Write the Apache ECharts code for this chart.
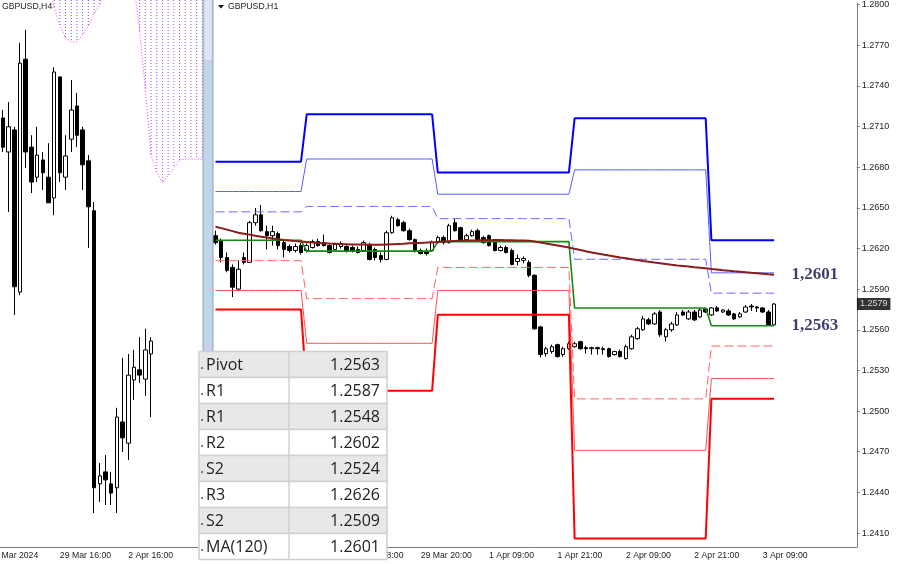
<!DOCTYPE html>
<html>
<head>
<meta charset="utf-8">
<script src="https://cdn.jsdelivr.net/npm/echarts@6/dist/echarts.min.js"></script>
<style>
html,body{margin:0;padding:0;background:#fff;}
#main{width:900px;height:564px;}
</style>
</head>
<body>
<div id="main"></div>
<script>
// ---- H4 panel (left) ----  [open, close, low, high]
var h4Candles = [
[1.26303,1.26237,1.26226,1.26321],
[1.26226,1.26283,1.26090,1.26339],
[1.26276,1.25921,1.25857,1.26283],
[1.25909,1.26427,1.25902,1.26473],
[1.26436,1.26226,1.26190,1.26502],
[1.26237,1.26158,1.26133,1.26264],
[1.26169,1.26219,1.26158,1.26283],
[1.26208,1.26179,1.26140,1.26226],
[1.26169,1.26111,1.26111,1.26246],
[1.26122,1.26407,1.26083,1.26418],
[1.26396,1.26179,1.26158,1.26396],
[1.26169,1.26217,1.26140,1.26264],
[1.26255,1.26321,1.26226,1.26389],
[1.26330,1.26264,1.26237,1.26360],
[1.26276,1.26197,1.26140,1.26283],
[1.26206,1.26102,1.26009,1.26219],
[1.26093,1.25466,1.25409,1.26113],
[1.25475,1.25493,1.25434,1.25522],
[1.25502,1.25484,1.25427,1.25540],
[1.25475,1.25454,1.25427,1.25502],
[1.25466,1.25626,1.25409,1.25647],
[1.25615,1.25579,1.25547,1.25760],
[1.25567,1.25721,1.25529,1.25769],
[1.25710,1.25739,1.25665,1.25778],
[1.25733,1.25721,1.25703,1.25807],
[1.25712,1.25778,1.25674,1.25826],
[1.25769,1.25798,1.25626,1.25807]
];
// Ichimoku cloud lower edge per H4 bar (upper edge is above the visible range)
var h4CloudBottom = [null,null,null,null,null,null,null,null,1.26600,1.26552,1.26513,1.26484,1.26475,1.26475,1.26491,1.26511,1.26538,1.26559,1.26600,null,null,null,null,1.26600,1.26500,1.26366,1.26219,1.26181,1.26156,1.26172,1.26190,1.26208,1.26210,1.26210,1.26210,1.26210];
var h4CloudTop = 1.2680;
var h4TickLabels = {'10':'29 Mar 16:00', '22':'2 Apr 16:00'};
var h4FirstLabel = '27 Mar 2024';   // belongs to bar -2, mostly off the left edge

// ---- H1 panel (right) ----  [open, close, low, high]
var h1Candles = [
[1.26294,1.26243,1.26229,1.26331],[1.26258,1.26133,1.26097,1.26273],[1.26133,1.26038,1.26024,1.26170],
[1.26060,1.25914,1.25841,1.26082],[1.25900,1.26046,1.25885,1.26112],[1.26133,1.26097,1.26082,1.26170],
[1.26097,1.26390,1.26097,1.26404],[1.26390,1.26448,1.26368,1.26499],[1.26448,1.26331,1.26324,1.26521],
[1.26324,1.26294,1.26192,1.26368],[1.26294,1.26324,1.26221,1.26368],[1.26309,1.26221,1.26192,1.26324],
[1.26243,1.26192,1.26133,1.26258],[1.26214,1.26185,1.26170,1.26229],[1.26185,1.26214,1.26170,1.26236],
[1.26221,1.26170,1.26155,1.26243],[1.26185,1.26221,1.26170,1.26236],[1.26207,1.26251,1.26199,1.26265],
[1.26251,1.26221,1.26214,1.26273],[1.26243,1.26221,1.26214,1.26302],[1.26221,1.26170,1.26163,1.26229],
[1.26192,1.26229,1.26185,1.26243],[1.26214,1.26236,1.26199,1.26251],[1.26214,1.26177,1.26170,1.26229],
[1.26207,1.26185,1.26170,1.26221],[1.26192,1.26170,1.26163,1.26214],[1.26185,1.26243,1.26177,1.26258],
[1.26229,1.26119,1.26112,1.26243],[1.26192,1.26133,1.26112,1.26207],[1.26148,1.26119,1.26097,1.26170],
[1.26119,1.26316,1.26112,1.26331],[1.26316,1.26426,1.26309,1.26441],[1.26412,1.26368,1.26360,1.26426],
[1.26390,1.26331,1.26324,1.26404],[1.26331,1.26265,1.26258,1.26346],[1.26265,1.26185,1.26170,1.26273],
[1.26185,1.26163,1.26155,1.26199],[1.26177,1.26163,1.26148,1.26199],[1.26185,1.26243,1.26177,1.26258],
[1.26243,1.26280,1.26236,1.26294],[1.26280,1.26243,1.26229,1.26294],[1.26243,1.26368,1.26236,1.26382],
[1.26390,1.26331,1.26324,1.26419],[1.26353,1.26265,1.26258,1.26360],[1.26265,1.26294,1.26251,1.26309],
[1.26294,1.26324,1.26287,1.26338],[1.26331,1.26265,1.26258,1.26346],[1.26280,1.26243,1.26236,1.26294],
[1.26294,1.26221,1.26214,1.26302],[1.26258,1.26185,1.26177,1.26265],[1.26185,1.26207,1.26177,1.26221],
[1.26207,1.26170,1.26163,1.26221],[1.26185,1.26082,1.26075,1.26199],[1.26104,1.26126,1.26075,1.26155],
[1.26112,1.26126,1.26090,1.26141],[1.26097,1.26002,1.25987,1.26112],[1.26002,1.25607,1.25600,1.26009],
[1.25621,1.25417,1.25395,1.25629],[1.25424,1.25460,1.25402,1.25475],[1.25439,1.25475,1.25424,1.25490],
[1.25490,1.25402,1.25395,1.25497],[1.25417,1.25460,1.25402,1.25475],[1.25460,1.25497,1.25453,1.25512],
[1.25475,1.25497,1.25468,1.25512],[1.25512,1.25460,1.25453,1.25519],[1.25468,1.25460,1.25424,1.25482],
[1.25460,1.25468,1.25417,1.25475],[1.25468,1.25460,1.25417,1.25475],[1.25460,1.25453,1.25417,1.25475],
[1.25460,1.25402,1.25395,1.25468],[1.25417,1.25439,1.25409,1.25446],[1.25439,1.25402,1.25395,1.25453],
[1.25387,1.25475,1.25380,1.25490],[1.25460,1.25548,1.25453,1.25563],[1.25534,1.25607,1.25526,1.25621],
[1.25600,1.25680,1.25592,1.25702],[1.25673,1.25643,1.25636,1.25687],[1.25643,1.25717,1.25636,1.25731],
[1.25731,1.25563,1.25548,1.25746],[1.25548,1.25600,1.25512,1.25614],[1.25600,1.25643,1.25585,1.25658],
[1.25636,1.25709,1.25629,1.25731],[1.25731,1.25709,1.25702,1.25746],[1.25680,1.25731,1.25673,1.25746],
[1.25731,1.25673,1.25665,1.25746],[1.25695,1.25746,1.25687,1.25761],[1.25753,1.25731,1.25724,1.25761],
[1.25709,1.25761,1.25702,1.25768],[1.25761,1.25739,1.25731,1.25775],[1.25731,1.25746,1.25724,1.25753],
[1.25739,1.25709,1.25702,1.25753],[1.25717,1.25680,1.25673,1.25724],[1.25695,1.25717,1.25687,1.25731],
[1.25731,1.25768,1.25724,1.25782],[1.25775,1.25768,1.25739,1.25790],[1.25768,1.25761,1.25731,1.25775],
[1.25761,1.25731,1.25724,1.25768],[1.25731,1.25636,1.25629,1.25746],[1.25636,1.25790,1.25629,1.25797]
];
var ma120 = [
1.26360,1.26350,1.26339,1.26328,1.26316,1.26309,1.26302,1.26294,1.26287,1.26280,
1.26273,1.26267,1.26262,1.26258,1.26254,1.26251,1.26247,1.26243,1.26241,1.26239,
1.26236,1.26235,1.26232,1.26231,1.26230,1.26229,1.26229,1.26227,1.26227,1.26227,
1.26229,1.26231,1.26233,1.26235,1.26238,1.26240,1.26241,1.26243,1.26246,1.26248,
1.26251,1.26253,1.26255,1.26257,1.26258,1.26258,1.26259,1.26260,1.26261,1.26262,
1.26262,1.26261,1.26260,1.26259,1.26258,1.26256,1.26251,1.26243,1.26236,1.26229,
1.26221,1.26214,1.26207,1.26197,1.26189,1.26179,1.26170,1.26163,1.26155,1.26148,
1.26141,1.26133,1.26128,1.26121,1.26115,1.26108,1.26102,1.26096,1.26091,1.26085,
1.26079,1.26074,1.26070,1.26066,1.26061,1.26057,1.26053,1.26048,1.26044,1.26039,
1.26035,1.26031,1.26028,1.26024,1.26020,1.26017,1.26013,1.26009,1.26006
];
// daily pivot levels, one value per day; dayStarts = first H1 bar of each day
var dayStarts = [0, 16, 39, 63, 87];
var levelR3 = [1.2684, 1.2719, 1.2676, 1.2716, 1.2626];
var levelR2 = [1.2662, 1.2686, 1.2660, 1.2678, 1.2602];
var levelR1 = [1.2647, 1.2651, 1.2642, 1.2612, 1.2587];
var levelP  = [1.2626, 1.2618, 1.2625, 1.2576, 1.2563];
var levelS1 = [1.2611, 1.2583, 1.2606, 1.2509, 1.2548];
var levelS2 = [1.2589, 1.2550, 1.2589, 1.2471, 1.2524];
var levelS3 = [1.2575, 1.2515, 1.2571, 1.2406, 1.2509];
var h1TickLabels = ['28 Mar 08:00','28 Mar 20:00','29 Mar 08:00','29 Mar 20:00','1 Apr 09:00','1 Apr 21:00','2 Apr 09:00','2 Apr 21:00','3 Apr 09:00'];
var priceTicks = [1.2410,1.2440,1.2470,1.2500,1.2530,1.2560,1.2590,1.2620,1.2650,1.2680,1.2710,1.2740,1.2770,1.2800];
var lastPrice = 1.2579;
var tagLabels = [['1,2601', 1.2601], ['1,2563', 1.2563]];

var tableNames = ['Pivot','R1','R1','R2','S2','R3','S2','MA(120)'];
var tableValues = ['1.2563','1.2587','1.2548','1.2602','1.2524','1.2626','1.2509','1.2601'];

var BAR = 5.7;
var AXFONT = 'Liberation Sans';

var h4Cats = [];
for (var k = 0; k <= 35; k++) h4Cats.push(k);
var h4Data = h4Cats.map(function (k) { return k < h4Candles.length ? h4Candles[k] : '-'; });
var h4Bottom = h4Cats.map(function (k) { return h4CloudBottom[k] != null ? h4CloudBottom[k] : '-'; });
var h4Cloud = [];
h4Cats.forEach(function (k) {
  if (h4CloudBottom[k] != null) h4Cloud.push([k, h4CloudTop, h4CloudBottom[k], k < 20 ? 0 : 1]);
});

var h1Cats = [];
for (var i = 0; i < 113; i++) h1Cats.push(i);

function levelSeries(levels) {
  var out = [];
  for (var i = 0; i < h1Candles.length; i++) {
    var d = 0;
    while (d + 1 < dayStarts.length && i >= dayStarts[d + 1]) d++;
    out.push(levels[d]);
  }
  return out;
}

function pivotLine(name, levels, color, width, dashed) {
  return {
    name: name, type: 'line', xAxisIndex: 1, yAxisIndex: 1,
    data: levelSeries(levels), symbol: 'none', silent: true, z: 4,
    lineStyle: { color: color, width: width, type: dashed ? [9, 4] : 'solid' }
  };
}

var candleStyle = { color: '#ffffff', color0: '#000000', borderColor: '#000000', borderColor0: '#000000', borderWidth: 1 };
var TFONT = '16px "Open Sans"';

var graphics = [
  { type: 'rect', z: 50, shape: { x: 203, y: 0, width: 10, height: 547 }, style: { fill: '#c3d3e8', stroke: '#8e9fb5', lineWidth: 1 } },
  { type: 'rect', z: 51, shape: { x: 204.5, y: 0, width: 7, height: 60 }, style: { fill: '#dde7f4' } },
  { type: 'text', z: 52, x: 2, y: 7, style: { text: 'GBPUSD,H4', fill: '#222', font: '8.7px "Liberation Sans"', verticalAlign: 'middle' } },
  { type: 'polygon', z: 52, shape: { points: [[218, 5], [224, 5], [221, 8.5]] }, style: { fill: '#111' } },
  { type: 'text', z: 52, x: 228, y: 7, style: { text: 'GBPUSD,H1', fill: '#222', font: '8.7px "Liberation Sans"', verticalAlign: 'middle' } },
  { type: 'text', z: 52, x: -10.5, y: 551, style: { text: h4FirstLabel, fill: '#222', font: '8.7px "Liberation Sans"', verticalAlign: 'top' } }
];
tableNames.forEach(function (n, r) {
  var y = 351.5 + r * 26;
  graphics.push({ type: 'rect', z: 100, shape: { x: 199, y: y, width: 188, height: 26 },
    style: { fill: r % 2 === 0 ? '#e8e8e8' : '#ffffff', stroke: '#d0d0d0', lineWidth: 1.5 } });
  graphics.push({ type: 'line', z: 101, shape: { x1: 289, y1: y, x2: 289, y2: y + 26 }, style: { stroke: '#d0d0d0', lineWidth: 1.5 } });
  graphics.push({ type: 'text', z: 102, x: 200, y: y + 13, style: { text: '.', fill: '#555', font: TFONT, verticalAlign: 'middle' } });
  graphics.push({ type: 'text', z: 102, x: 206, y: y + 14, style: { text: n, fill: '#222', font: TFONT, verticalAlign: 'middle' } });
  graphics.push({ type: 'text', z: 102, x: 380, y: y + 14, style: { text: tableValues[r], fill: '#222', font: TFONT, align: 'right', verticalAlign: 'middle' } });
});

var myChart = echarts.init(document.getElementById('main'));
var option = {
  animation: false,
  backgroundColor: '#ffffff',
  grid: [
    { left: 0, top: 0, width: 36 * BAR, height: 547 },
    { left: 215.5 - 0.5 * BAR, top: 0, width: 113 * BAR, height: 547 }
  ],
  xAxis: [
    {
      type: 'category', gridIndex: 0, data: h4Cats, boundaryGap: true,
      axisLine: { lineStyle: { color: '#7a7a7a' } },
      axisTick: { alignWithLabel: true, length: 3, lineStyle: { color: '#7a7a7a' },
        interval: function (idx) { return h4TickLabels[h4Cats[idx]] !== undefined; } },
      axisLabel: { align: 'left', margin: 4, color: '#222', fontFamily: AXFONT, fontSize: 8.7,
        interval: function (idx) { return h4TickLabels[h4Cats[idx]] !== undefined; },
        formatter: function (v) { return h4TickLabels[v] || ''; } },
      splitLine: { show: false }
    },
    {
      type: 'category', gridIndex: 1, data: h1Cats, boundaryGap: true,
      axisLine: { lineStyle: { color: '#7a7a7a' } },
      axisTick: { alignWithLabel: true, length: 3, lineStyle: { color: '#7a7a7a' },
        interval: function (idx) { return idx % 12 === 0 && idx / 12 < h1TickLabels.length; } },
      axisLabel: { align: 'left', margin: 4, color: '#222', fontFamily: AXFONT, fontSize: 8.7,
        interval: function (idx) { return idx % 12 === 0 && idx / 12 < h1TickLabels.length; },
        formatter: function (v) { return h1TickLabels[v / 12] || ''; } },
      splitLine: { show: false }
    }
  ],
  yAxis: [
    { type: 'value', gridIndex: 0, min: 1.25332, max: 1.2657, show: false },
    {
      type: 'value', gridIndex: 1, position: 'right', min: 1.23997, max: 1.28010, scale: true,
      axisLine: { show: true, lineStyle: { color: '#7a7a7a' } },
      axisTick: { show: true, length: 3, customValues: priceTicks, lineStyle: { color: '#7a7a7a' } },
      axisLabel: { customValues: priceTicks, margin: 5, color: '#222', fontFamily: AXFONT, fontSize: 9,
        formatter: function (v) { return v.toFixed(4); } },
      splitLine: { show: false }
    }
  ],
  series: [
    {
      name: 'Cloud', type: 'custom', xAxisIndex: 0, yAxisIndex: 0, data: h4Cloud, silent: true, z: 1,
      renderItem: function (params, api) {
        var a = api.coord([api.value(0), api.value(1)]);
        var b = api.coord([api.value(0), api.value(2)]);
        var top = Math.max(a[1], params.coordSys.y);
        return { type: 'line', shape: { x1: a[0], y1: top, x2: a[0], y2: b[1] },
          style: { stroke: api.value(3) === 0 ? '#5a5aff' : '#9650ff', lineWidth: 1, lineDash: [1, 2] } };
      }
    },
    {
      name: 'Span', type: 'line', xAxisIndex: 0, yAxisIndex: 0, data: h4Bottom, symbol: 'none', silent: true, z: 1,
      lineStyle: { color: '#ff33ff', width: 1, type: [1, 2] }
    },
    {
      name: 'GBPUSD,H4', type: 'candlestick', xAxisIndex: 0, yAxisIndex: 0, data: h4Data,
      barWidth: 4, itemStyle: candleStyle, silent: true, z: 3
    },
    {
      name: 'GBPUSD,H1', type: 'candlestick', xAxisIndex: 1, yAxisIndex: 1, data: h1Candles,
      barWidth: 4, itemStyle: candleStyle, silent: true, z: 3
    },
    pivotLine('R3', levelR3, '#0000ff', 2, false),
    pivotLine('R2', levelR2, '#5c5cff', 1, false),
    pivotLine('R1', levelR1, '#6a6aff', 1, true),
    pivotLine('Pivot', levelP, '#138a13', 1.6, false),
    pivotLine('S1', levelS1, '#ff6464', 1, true),
    pivotLine('S2', levelS2, '#ff5050', 1, false),
    pivotLine('S3', levelS3, '#ff0000', 2, false),
    {
      name: 'MA(120)', type: 'line', xAxisIndex: 1, yAxisIndex: 1, data: ma120, symbol: 'none', silent: true, z: 5,
      lineStyle: { color: '#8b1c1c', width: 2 }
    },
    {
      name: 'tags', type: 'scatter', xAxisIndex: 1, yAxisIndex: 1, symbolSize: 0, silent: true, z: 6,
      data: tagLabels.map(function (t) { return { value: [100, t[1]], name: t[0] }; }),
      label: { show: true, position: 'right', distance: 6, formatter: '{b}',
        color: '#0f0f4a', fontFamily: 'Liberation Serif', fontWeight: 'bold', fontSize: 17 }
    },
    {
      name: 'bid', type: 'scatter', xAxisIndex: 1, yAxisIndex: 1, symbolSize: 0, silent: true, z: 7, clip: false,
      data: [[h1Cats.length - 1, lastPrice]],
      label: { show: true, position: 'right', distance: 3, formatter: lastPrice.toFixed(4),
        color: '#fff', backgroundColor: '#000', padding: [2, 3, 1, 3], fontFamily: AXFONT, fontSize: 9 }
    }
  ],
  graphic: graphics
};
myChart.setOption(option);
</script>
</body>
</html>
